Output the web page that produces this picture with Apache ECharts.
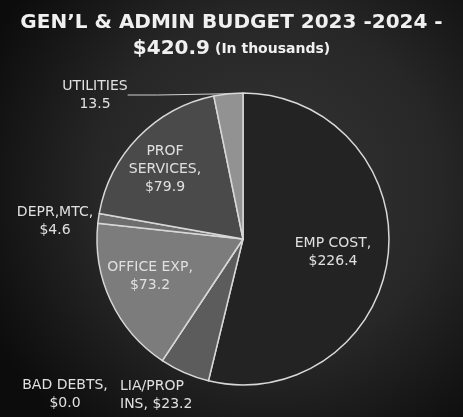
<!DOCTYPE html>
<html><head><meta charset="utf-8">
<script src="https://cdn.jsdelivr.net/npm/echarts@6/dist/echarts.min.js"></script>
<style>html,body{margin:0;padding:0;background:#111}#c{width:463px;height:417px}</style>
</head><body><div id="c"></div>
<script>
const categories = ['EMP COST', 'LIA/PROP INS', 'BAD DEBTS', 'OFFICE EXP', 'DEPR,MTC', 'PROF SERVICES', 'UTILITIES'];
const values = [226.4, 23.2, 0.0, 73.2, 4.6, 79.9, 13.5];
const labelTexts = ['EMP COST,\n$226.4', 'LIA/PROP\nINS, $23.2', 'BAD DEBTS,\n$0.0', 'OFFICE EXP,\n$73.2', 'DEPR,MTC,\n$4.6', 'PROF\nSERVICES,\n$79.9', 'UTILITIES\n13.5'];
const titleLine1 = 'GEN\u2019L & ADMIN BUDGET 2023 -2024 -';
const titleTotal = '$420.9';
const titleUnit = '(In thousands)';

// styling (not data)
const sliceColors = ['#232323', '#5c5c5c', '#6a6a6a', '#7c7c7c', '#6e6e6e', '#4a4a4a', '#929292'];
const labelPos = [[333, 252, 'center'], [120, 395, 'left'], [65, 394, 'center'], [150, 276, 'center'], [55, 221, 'center'], [165, 169, 'center'], [95, 95, 'center']];

const chart = echarts.init(document.getElementById('c'));
chart.setOption({
  backgroundColor: {
    type: 'radial', x: 0.58, y: 0.45, r: 0.75,
    colorStops: [{offset: 0, color: '#353535'}, {offset: 0.55, color: '#272727'}, {offset: 1, color: '#0c0c0c'}]
  },
  title: {
    text: '{a|' + titleLine1 + '}\n{a|' + titleTotal + '} {b|' + titleUnit + '}',
    left: 'center', top: 5,
    textStyle: {
      rich: {
        a: {fontFamily: 'DejaVu Sans', fontWeight: 'bold', fontSize: 20, color: '#f0f0f0', lineHeight: 26},
        b: {fontFamily: 'DejaVu Sans', fontWeight: 'bold', fontSize: 14, color: '#f0f0f0', lineHeight: 26}
      }
    }
  },
  series: [{
    type: 'pie',
    center: [243, 239],
    radius: [0, 146],
    startAngle: 90,
    clockwise: true,
    avoidLabelOverlap: false,
    minShowLabelAngle: 0,
    stillShowZeroSum: true,
    itemStyle: {borderColor: '#d8d8d8', borderWidth: 1.5},
    label: {
      show: true, position: 'outside',
      color: '#e0e0e0', fontFamily: 'DejaVu Sans', fontSize: 14, lineHeight: 18,
      formatter: p => labelTexts[p.dataIndex]
    },
    labelLine: {show: false},
    labelLayout: p => {
      const lp = labelPos[p.dataIndex];
      return {x: lp[0], y: lp[1], align: lp[2], verticalAlign: 'middle'};
    },
    data: categories.map((n, i) => ({
      name: n, value: values[i],
      itemStyle: {color: sliceColors[i]},
      labelLine: i === 6 ? {show: true, lineStyle: {color: '#cfcfcf', width: 1}} : {show: false}
    })),
    emphasis: {disabled: true},
    animation: false
  }]
});
</script></body></html>
